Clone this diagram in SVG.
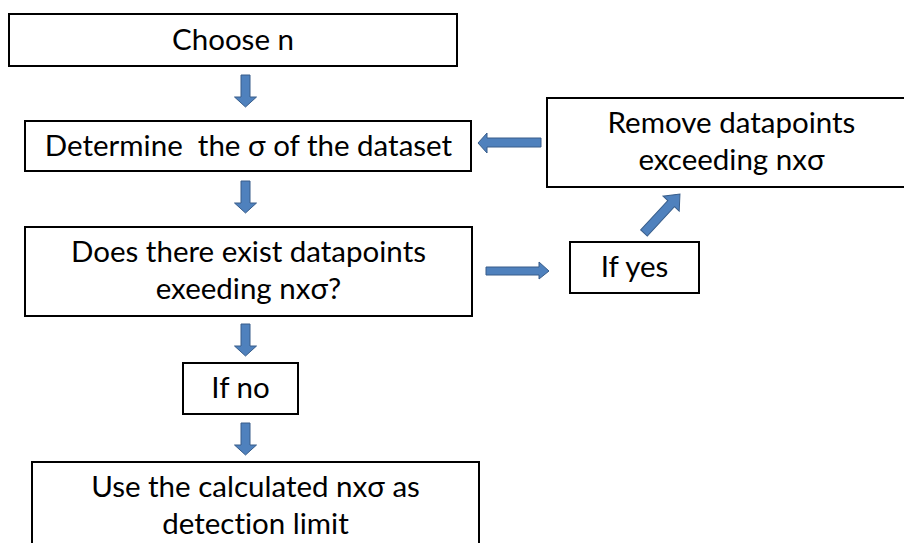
<svg xmlns="http://www.w3.org/2000/svg" width="904" height="543" viewBox="0 0 904 543">
<style>
.box{fill:#fff;stroke:#000;stroke-width:2}
.t{font-family:Lato,"Open Sans","Liberation Sans",sans-serif;font-size:29.5px;fill:#000;text-anchor:middle;white-space:pre;font-variant-ligatures:none}
.arr{fill:#4F81BD;stroke:#385D8A;stroke-width:1}
</style>
<defs>
<path id="down" d="M-4.5,0 H4.5 V22 H11 L0,32 L-11,22 H-4.5 Z"/>
</defs>
<rect width="904" height="543" fill="#fff"/>
<g id="choose">
<rect class="box" x="9" y="14" width="448" height="52"/>
<text class="t" x="233" y="50">Choose n</text>
</g>
<g id="determine">
<rect class="box" x="25" y="121" width="446" height="50"/>
<text class="t" x="248.5" y="156" xml:space="preserve">Determine  the σ of the dataset</text>
</g>
<g id="exist">
<rect class="box" x="25" y="227" width="447" height="89"/>
<text class="t" x="248.5" y="262">Does there exist datapoints</text>
<text class="t" x="248.5" y="299">exeeding nxσ?</text>
</g>
<g id="ifno">
<rect class="box" x="183" y="363" width="115" height="51"/>
<text class="t" x="240.5" y="398">If no</text>
</g>
<g id="use">
<rect class="box" x="32" y="462" width="447" height="90"/>
<text class="t" x="255.5" y="497">Use the calculated nxσ as</text>
<text class="t" x="255.5" y="534">detection limit</text>
</g>
<g id="remove">
<rect class="box" x="547" y="98" width="370" height="89"/>
<text class="t" x="731.5" y="133">Remove datapoints</text>
<text class="t" x="731.5" y="170">exceeding nxσ</text>
</g>
<g id="ifyes">
<rect class="box" x="570" y="242" width="129" height="51"/>
<text class="t" x="634.5" y="277">If yes</text>
</g>
<g id="connectors">
<use href="#down" class="arr" x="245.5" y="75"/>
<use href="#down" class="arr" x="245.5" y="181"/>
<use href="#down" class="arr" x="245.5" y="324"/>
<use href="#down" class="arr" x="245.5" y="423"/>
<path class="arr" d="M541,138 V147 H487 V153 L478,143 L487,133 V138 Z"/>
<path class="arr" d="M486,267 V275 H539 V279 L549,271 L539,262 V267 Z"/>
<path class="arr" transform="translate(644,233) rotate(-47.3)" d="M0,-4.5 H40 V-11 L53,0 L40,11 V4.5 H0 Z"/>
</g>
</svg>
